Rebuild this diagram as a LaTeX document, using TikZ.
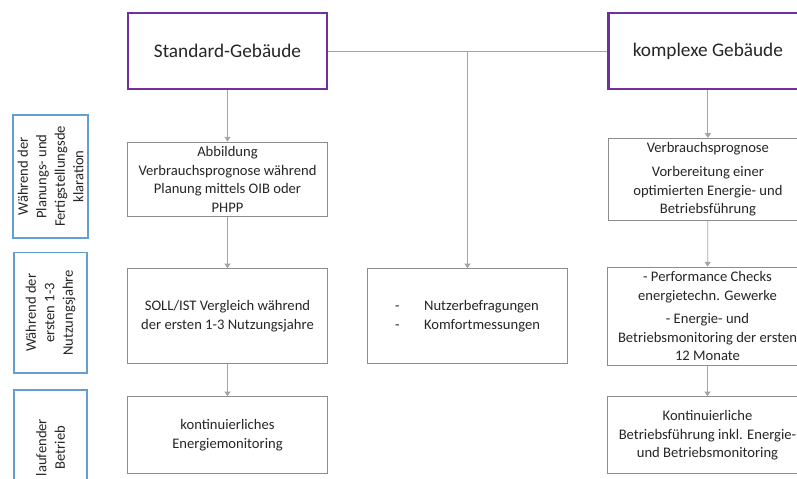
\documentclass[tikz,border=0pt]{standalone}
\usepackage{fontspec}
\setmainfont{Carlito}
\usetikzlibrary{arrows.meta,positioning}
\definecolor{lila}{RGB}{112,48,160}
\definecolor{hellblau}{RGB}{100,158,210}
\definecolor{rahmen}{RGB}{140,140,140}
\definecolor{linie}{RGB}{165,165,165}

\begin{document}
\begin{tikzpicture}[node distance=6.35cm,on grid,
    >={Triangle[length=3.5pt,width=4.5pt]}]
  \tikzstyle{nodeH}=[rectangle,draw=lila,line width=2pt,fill=white,text=black!85,minimum width=5.27cm,minimum height=2.01cm,font=\fontsize{14.5}{17}\selectfont]
  \tikzstyle{nodeS}=[rectangle,draw=rahmen,line width=0.8pt,fill=white,text=black!85,minimum width=5.27cm,align=center,font=\fontsize{11}{13.9}\selectfont]
  \tikzstyle{nodeP}=[rectangle,draw=hellblau,line width=1.4pt,fill=white,text=black!85,rotate=90,minimum width=3.2cm,minimum height=1.93cm,align=center,font=\fontsize{11}{13.9}\selectfont]

  \useasboundingbox (-6.019,1.349) rectangle (15.068,-11.324);
  \clip (-6.019,1.349) rectangle (15.068,-11.324);

  % Gebaeudetypen
  \node[nodeH]          (std)                     {Standard-Gebäude};
  \node[nodeH]          (kpx) [right=12.71cm of std] {komplexe Gebäude};

  % Standard-Gebaeude
  \node[nodeS,minimum height=1.98cm] (stdA) [below=3.40cm of std]
      {Abbildung\\Verbrauchsprognose während\\Planung mittels OIB oder\\PHPP};
  \node[nodeS,minimum height=2.51cm] (stdB) [below=3.62cm of stdA]
      {SOLL/IST Vergleich während\\der ersten 1-3 Nutzungsjahre};
  \node[nodeS,minimum height=2.04cm] (stdC) [below=3.15cm of stdB]
      {kontinuierliches\\Energiemonitoring};

  % beide
  \node[nodeS,minimum height=2.51cm] (mid) [right=of stdB]
      {\begin{tabular}{@{}l@{\hspace{0.65cm}}l@{}}
        - & Nutzerbefragungen\\
        - & Komfortmessungen
      \end{tabular}};

  % komplexe Gebaeude
  \node[nodeS,minimum height=1.98cm] (kpxA) [below=3.40cm of kpx]
      {Verbrauchsprognose\\[4pt]Vorbereitung einer\\optimierten Energie- und\\Betriebsführung};
  \node[nodeS,minimum height=2.54cm] (kpxB) [right=of mid]
      {- Performance Checks\\energietechn. Gewerke\\[4pt]- Energie- und\\Betriebsmonitoring der ersten\\12 Monate};
  \node[nodeS,minimum height=2.04cm] (kpxC) [below=3.15cm of kpxB]
      {Kontinuierliche\\Betriebsführung inkl. Energie-\\und Betriebsmonitoring};

  % Phasen
  \node[yshift=0.08cm,nodeP,minimum width=3.25cm] (phase1) [left=4.68cm of stdA]
      {Während der\\Planungs- und\\Fertigstellungsde\\klaration};
  \node[yshift=0.09cm,nodeP] (phase2) [left=4.68cm of stdB]
      {Während der\\ersten 1-3\\Nutzungsjahre};
  \node[yshift=-0.32cm,nodeP,minimum width=3.05cm] (phase3) [left=4.68cm of stdC]
      {laufender\\Betrieb};

  \draw[linie,line width=0.6pt] (std) -- (kpx);
  \path[->,linie,line width=0.6pt]
      (std) edge (stdA)
      (stdA) edge (stdB)
      (stdB) edge (stdC)
      (kpx) edge (kpxA)
      (kpxA) edge (kpxB)
      (kpxB) edge (kpxC)
      (mid.north |- std.east) edge (mid);
\end{tikzpicture}
\end{document}
